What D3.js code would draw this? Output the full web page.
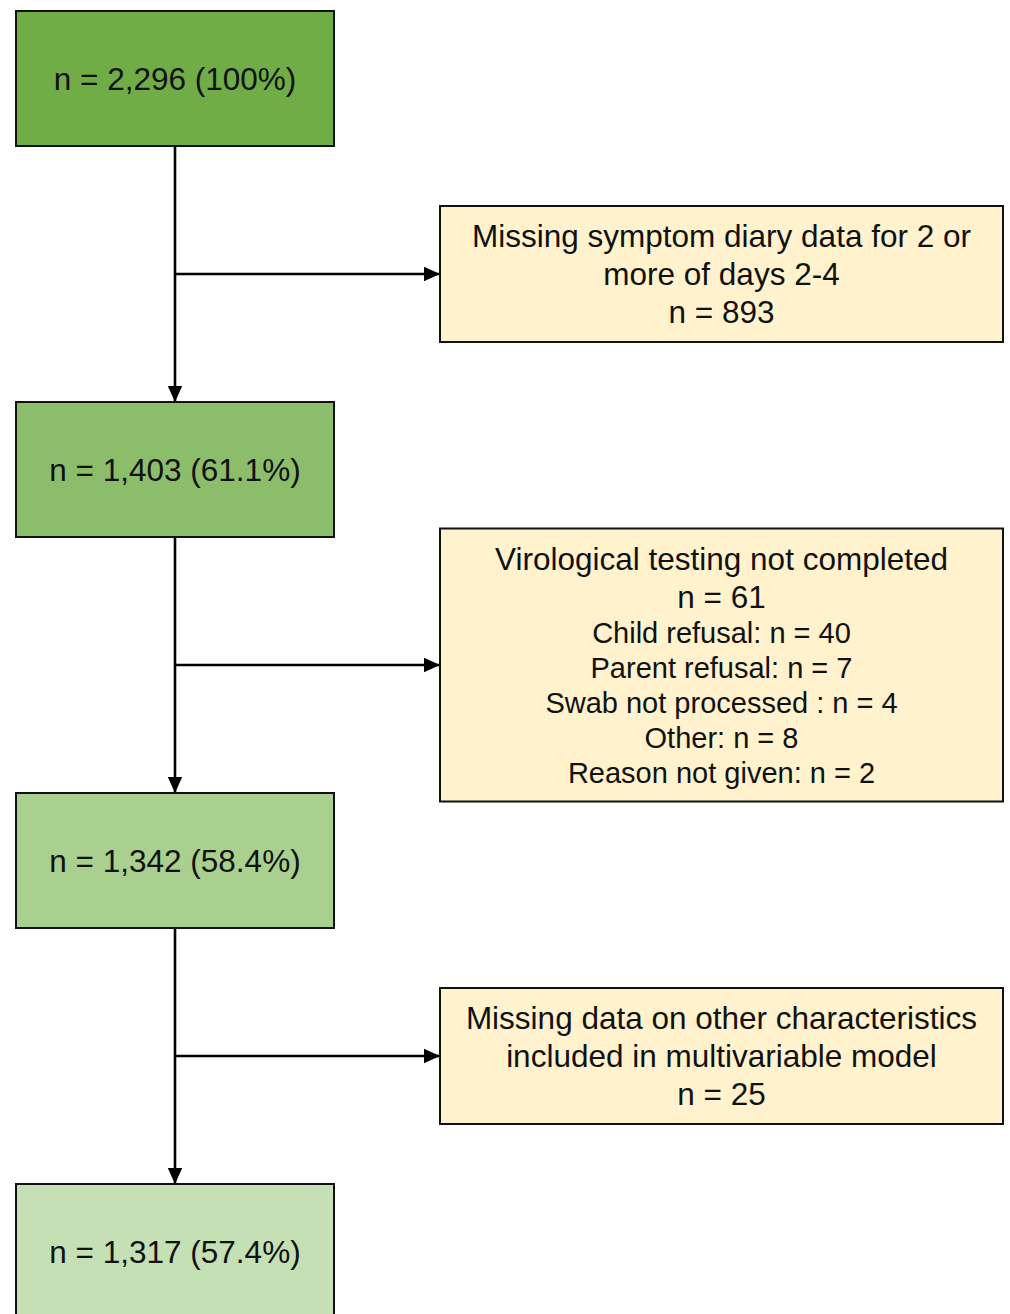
<!DOCTYPE html>
<html>
<head>
<meta charset="utf-8">
<script src="https://cdn.jsdelivr.net/npm/d3@7"></script>
<style>
  body { margin: 0; background: #fff; }
  svg { display: block; font-family: "Liberation Sans", Arial, sans-serif; }
</style>
</head>
<body>
<svg id="flow" width="1010" height="1314"></svg>
<script>
// flow steps (left column)
const stepCounts = ['2,296', '1,403', '1,342', '1,317'];
const stepPcts = ['100%', '61.1%', '58.4%', '57.4%'];
const stepFills = ['#70ad47', '#8cbd6b', '#a9d08e', '#c5e0b4'];

// exclusion boxes (right column)
const exclTitles = [
  ['Missing symptom diary data for 2 or', 'more of days 2-4'],
  ['Virological testing not completed'],
  ['Missing data on other characteristics', 'included in multivariable model']
];
const exclCounts = [893, 61, 25];
const exclReasons = [
  [],
  ['Child refusal: n = 40', 'Parent refusal: n = 7', 'Swab not processed : n = 4', 'Other: n = 8', 'Reason not given: n = 2'],
  []
];

const svg = d3.select('#flow');

const mainX = 16, mainW = 318, mainH = 135;
const sideX = 440, sideW = 563;
const stemX = 175;
const bigLine = 38, smallLine = 35, pad = 11;

const yStep = d3.scaleLinear()
                .domain([0, stepCounts.length - 1])
                .range([11, 1184]);

// arrow marker
svg.append('defs').append('marker')
   .attr('id', 'tri')
   .attr('viewBox', '0 0 10 10')
   .attr('refX', 10)
   .attr('refY', 5)
   .attr('markerUnits', 'userSpaceOnUse')
   .attr('markerWidth', 16)
   .attr('markerHeight', 16)
   .attr('orient', 'auto')
   .append('path')
   .attr('d', 'M0,0.5 L10,5 L0,9.5 Z')
   .attr('fill', '#000');

// vertical connectors
const links = d3.range(stepCounts.length - 1);
svg.selectAll('.stem')
   .data(links)
   .enter()
   .append('line')
   .attr('class', 'stem')
   .attr('x1', stemX)
   .attr('x2', stemX)
   .attr('y1', i => yStep(i) + mainH)
   .attr('y2', i => yStep(i + 1))
   .attr('stroke', '#000')
   .attr('stroke-width', 2.6)
   .attr('marker-end', 'url(#tri)');

// main boxes
const steps = svg.selectAll('.step')
                 .data(stepCounts)
                 .enter()
                 .append('g')
                 .attr('class', 'step');

steps.append('rect')
     .attr('x', mainX)
     .attr('y', (d, i) => yStep(i))
     .attr('width', mainW)
     .attr('height', mainH)
     .attr('fill', (d, i) => stepFills[i])
     .attr('stroke', '#111')
     .attr('stroke-width', 2);

steps.append('text')
     .attr('x', mainX + mainW / 2)
     .attr('y', (d, i) => yStep(i) + mainH / 2 + 11)
     .attr('text-anchor', 'middle')
     .attr('font-size', 31.5)
     .attr('fill', '#111')
     .text((d, i) => `n = ${d} (${stepPcts[i]})`);

// exclusion boxes
const excl = exclCounts.map((c, i) => {
  const big = exclTitles[i].concat([`n = ${c}`]);
  const small = exclReasons[i];
  const h = pad * 2 + big.length * bigLine + small.length * smallLine;
  const cy = (yStep(i) + mainH + yStep(i + 1)) / 2;
  return { big, small, h, cy, top: cy - h / 2 };
});

svg.selectAll('.branch')
   .data(excl)
   .enter()
   .append('line')
   .attr('class', 'branch')
   .attr('x1', stemX)
   .attr('x2', sideX)
   .attr('y1', d => d.cy)
   .attr('y2', d => d.cy)
   .attr('stroke', '#000')
   .attr('stroke-width', 2.6)
   .attr('marker-end', 'url(#tri)');

const side = svg.selectAll('.excl')
                .data(excl)
                .enter()
                .append('g')
                .attr('class', 'excl');

side.append('rect')
    .attr('x', sideX)
    .attr('y', d => d.top)
    .attr('width', sideW)
    .attr('height', d => d.h)
    .attr('fill', '#fff2cc')
    .attr('stroke', '#111')
    .attr('stroke-width', 2);

side.each(function (d) {
  const g = d3.select(this);
  let y = d.top + pad;
  d.big.forEach(t => {
    g.append('text')
     .attr('x', sideX + sideW / 2)
     .attr('y', y + bigLine / 2 + 11)
     .attr('text-anchor', 'middle')
     .attr('font-size', 31.5)
     .attr('fill', '#111')
     .text(t);
    y += bigLine;
  });
  d.small.forEach(t => {
    g.append('text')
     .attr('x', sideX + sideW / 2)
     .attr('y', y + smallLine / 2 + 10)
     .attr('text-anchor', 'middle')
     .attr('font-size', 29)
     .attr('fill', '#111')
     .text(t);
    y += smallLine;
  });
});
</script>
</body>
</html>
